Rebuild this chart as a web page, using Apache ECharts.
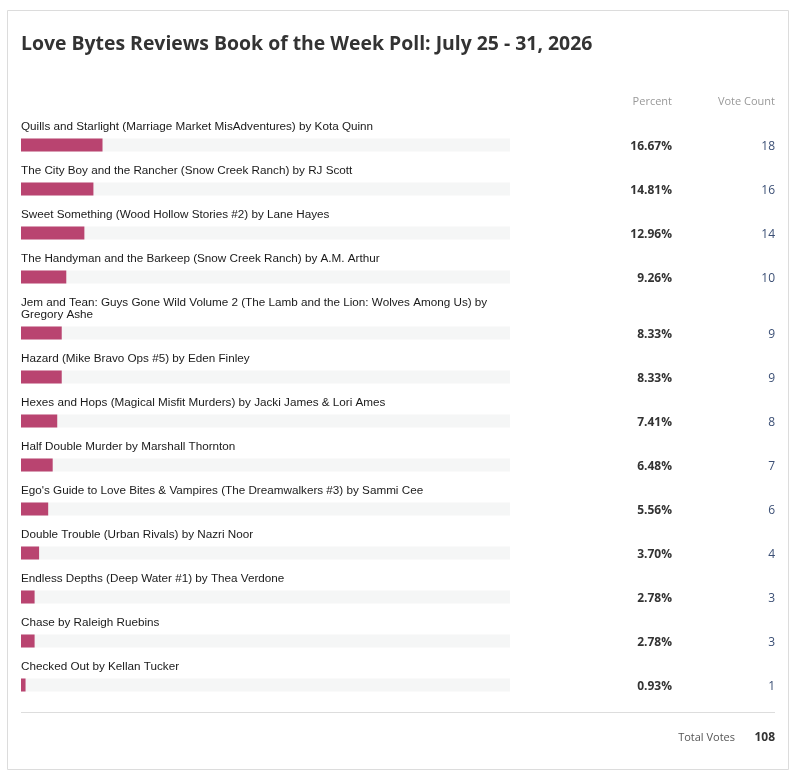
<!DOCTYPE html>
<html>
<head>
<meta charset="utf-8">
<script src="https://cdn.jsdelivr.net/npm/echarts@6/dist/echarts.min.js"></script>
<style>
  html, body { margin: 0; padding: 0; background: #fff; }
  #chart { width: 792px; height: 776px; }
</style>
</head>
<body>
<div id="chart"></div>
<script>
// Poll results, top to bottom as listed.
const titleText = "Love Bytes Reviews Book of the Week Poll: July 25 - 31, 2026";
const books = [
  "Quills and Starlight (Marriage Market MisAdventures) by Kota Quinn",
  "The City Boy and the Rancher (Snow Creek Ranch) by RJ Scott",
  "Sweet Something (Wood Hollow Stories #2) by Lane Hayes",
  "The Handyman and the Barkeep (Snow Creek Ranch) by A.M. Arthur",
  "Jem and Tean: Guys Gone Wild Volume 2 (The Lamb and the Lion: Wolves Among Us) by Gregory Ashe",
  "Hazard (Mike Bravo Ops #5) by Eden Finley",
  "Hexes and Hops (Magical Misfit Murders) by Jacki James & Lori Ames",
  "Half Double Murder by Marshall Thornton",
  "Ego's Guide to Love Bites & Vampires (The Dreamwalkers #3) by Sammi Cee",
  "Double Trouble (Urban Rivals) by Nazri Noor",
  "Endless Depths (Deep Water #1) by Thea Verdone",
  "Chase by Raleigh Ruebins",
  "Checked Out by Kellan Tucker",
];
const percents = [16.67, 14.81, 12.96, 9.26, 8.33, 8.33, 7.41, 6.48, 5.56, 3.70, 2.78, 2.78, 0.93];
const votes = [18, 16, 14, 10, 9, 9, 8, 7, 6, 4, 3, 3, 1];
const totalVotes = 108;

const chart = echarts.init(document.getElementById("chart"), null, { renderer: "canvas" });

const LEFT = 21, TRACK_W = 489, BAR_H = 13;
const PCT_X = 672, VOTE_X = 775;
const LABEL_FONT = '11.7px "Liberation Sans", Arial, sans-serif';
const UI_FONT = '"Open Sans", "Noto Sans", sans-serif';

// measure labels so long names wrap onto a second line like the original
const ctx = document.createElement("canvas").getContext("2d");
ctx.font = LABEL_FONT;

const grids = [], xAxes = [], yAxes = [], series = [], graphics = [];
let labelY = 126;
books.forEach((name, i) => {
  const lines = ctx.measureText(name).width > TRACK_W ? 2 : 1;
  const barMid = labelY + 19 + (lines - 1) * 12;
  graphics.push({
    type: "text", left: LEFT, top: labelY - 5,
    style: { text: name, font: LABEL_FONT, fill: "#1a1a1a", width: TRACK_W, overflow: "break", lineHeight: 12 },
  });
  graphics.push({
    type: "text", x: PCT_X, y: barMid + 1.5,
    style: { text: percents[i].toFixed(2) + "%", font: 'bold 12px ' + UI_FONT, fill: "#333", align: "right", verticalAlign: "middle" },
  });
  graphics.push({
    type: "text", x: VOTE_X, y: barMid + 1.5,
    style: { text: String(votes[i]), font: '12px ' + UI_FONT, fill: "#3b4f75", align: "right", verticalAlign: "middle" },
  });
  grids.push({ left: LEFT, width: TRACK_W, top: barMid - BAR_H / 2, height: BAR_H });
  xAxes.push({ gridIndex: i, type: "value", min: 0, max: 100, show: false });
  yAxes.push({ gridIndex: i, type: "category", data: [name], show: false });
  series.push({
    type: "bar", xAxisIndex: i, yAxisIndex: i, data: [percents[i]],
    barWidth: BAR_H, silent: true,
    itemStyle: { color: "#b94470" },
    showBackground: true,
    backgroundStyle: { color: "#f5f6f6" },
  });
  labelY += 44 + (lines - 1) * 12;
});

graphics.push(
  { type: "rect", shape: { x: 7.5, y: 10.5, width: 781, height: 759 }, style: { fill: "none", stroke: "#dcdcdc", lineWidth: 1 }, z: -1 },
  { type: "text", x: LEFT, y: 44.5, style: { text: titleText, font: 'bold 19.4px ' + UI_FONT, fill: "#333", verticalAlign: "middle" } },
  { type: "text", x: PCT_X, y: 101.5, style: { text: "Percent", font: '11px ' + UI_FONT, fill: "#999", align: "right", verticalAlign: "middle" } },
  { type: "text", x: VOTE_X, y: 101.5, style: { text: "Vote Count", font: '11px ' + UI_FONT, fill: "#999", align: "right", verticalAlign: "middle" } },
  { type: "line", shape: { x1: LEFT, y1: 712.5, x2: VOTE_X, y2: 712.5 }, style: { stroke: "#dddddd", lineWidth: 1 } },
  { type: "text", x: 735, y: 737.5, style: { text: "Total Votes", font: '11px ' + UI_FONT, fill: "#555", align: "right", verticalAlign: "middle" } },
  { type: "text", x: VOTE_X, y: 737.5, style: { text: String(totalVotes), font: 'bold 12px ' + UI_FONT, fill: "#333", align: "right", verticalAlign: "middle" } }
);

chart.setOption({
  animation: false,
  backgroundColor: "#fff",
  grid: grids,
  xAxis: xAxes,
  yAxis: yAxes,
  series,
  graphic: graphics,
});
</script>
</body>
</html>
